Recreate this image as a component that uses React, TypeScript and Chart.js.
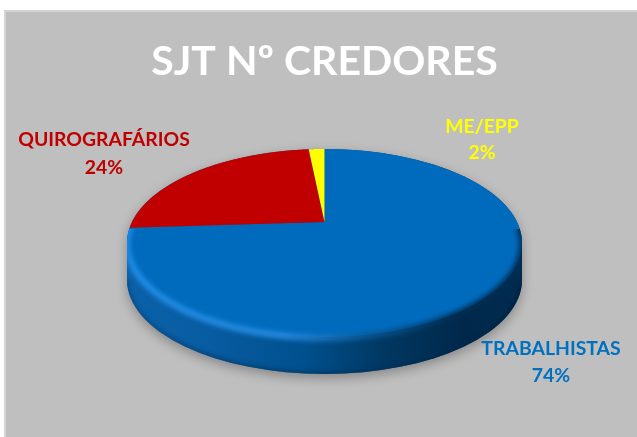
import React, { useEffect, useRef } from "react";
import { Chart, registerables } from "chart.js";

Chart.register(...registerables);

const categories = ["TRABALHISTAS", "QUIROGRAFÁRIOS", "ME/EPP"];
const values = [74, 24.4, 1.6];
const percentLabels = ["74%", "24%", "2%"];
const sliceColors = ["#006bbd", "#c00000", "#ffff00"];
const labelColors = ["#0070c0", "#c00000", "#ffff00"];
const labelCenters = [
  [551, 349, 376],
  [104, 140, 168],
  [482, 127, 153],
];

const CX = 324.5;
const CY = 243;
const RX = 197.5;
const RY = 94;
const TILT = -0.223;
const DEPTH = 37;

// maps a circle angle to the perspective rim ellipse
function rim(a: number): [number, number] {
  const u = Math.cos(a);
  const v = Math.sin(a);
  const d = 1 + TILT * v;
  return [CX + (RX * u * Math.sqrt(1 - TILT * TILT)) / d, CY + (RY * (v + TILT)) / d];
}

const apex = (): [number, number] => [CX, CY + RY * TILT];

function bodyPath(ctx: CanvasRenderingContext2D) {
  ctx.beginPath();
  ctx.ellipse(CX, CY, RX, RY, 0, Math.PI, 0, false);
  ctx.lineTo(CX + RX, CY + DEPTH);
  ctx.ellipse(CX, CY + DEPTH, RX, RY, 0, 0, Math.PI, false);
  ctx.closePath();
}

const panelPlugin = {
  id: "panel",
  beforeDraw(chart: any) {
    const { ctx, width, height } = chart;
    ctx.save();
    ctx.fillStyle = "#ffffff";
    ctx.fillRect(0, 0, width, height);
    ctx.fillStyle = "#d4d4d4";
    ctx.fillRect(4, 10, width - 4, height - 10);
    ctx.fillStyle = "#bfbfbf";
    ctx.fillRect(6, 12, width - 6, height - 12);
    ctx.restore();
  },
};

const tiltedPiePlugin = {
  id: "tiltedPie",
  beforeDatasetDraw(chart: any) {
    const ctx: CanvasRenderingContext2D = chart.ctx;
    const arcs = chart.getDatasetMeta(0).data;

    // ground shadow and side wall
    ctx.save();
    ctx.shadowColor = "rgba(0,0,0,0.30)";
    ctx.shadowBlur = 12;
    ctx.shadowOffsetY = 4;
    const wall = ctx.createLinearGradient(CX - RX, 0, CX + RX, 0);
    wall.addColorStop(0, "#0b62aa");
    wall.addColorStop(0.2, "#085ca2");
    wall.addColorStop(0.45, "#00508e");
    wall.addColorStop(0.65, "#003862");
    wall.addColorStop(0.85, "#00284a");
    wall.addColorStop(1, "#002c50");
    ctx.fillStyle = wall;
    bodyPath(ctx);
    ctx.fill();
    ctx.restore();

    // top face, from the angles Chart.js computed
    const [ax, ay] = apex();
    arcs.forEach((arc: any, i: number) => {
      const { startAngle, endAngle } = arc.getProps(["startAngle", "endAngle"], true);
      ctx.beginPath();
      ctx.moveTo(ax, ay);
      const steps = Math.max(4, Math.ceil((endAngle - startAngle) / 0.01));
      for (let s = 0; s <= steps; s++) {
        const [x, y] = rim(startAngle + ((endAngle - startAngle) * s) / steps);
        ctx.lineTo(x, y);
      }
      ctx.closePath();
      ctx.fillStyle = sliceColors[i];
      ctx.fill();
    });

    // soft edges of the wall and the rim
    ctx.save();
    bodyPath(ctx);
    ctx.clip();
    ctx.beginPath();
    ctx.rect(CX - RX - 5, CY - 14, RX * 2 + 10, RY + DEPTH + 30);
    ctx.clip();
    const bottomEdge = ctx.createLinearGradient(CX - RX, 0, CX + RX, 0);
    bottomEdge.addColorStop(0, "#084f8c");
    bottomEdge.addColorStop(0.5, "#003a66");
    bottomEdge.addColorStop(1, "#002040");
    ctx.strokeStyle = bottomEdge;
    ctx.lineWidth = 5;
    (ctx as any).filter = "blur(2px)";
    ctx.beginPath();
    ctx.ellipse(CX, CY + DEPTH, RX, RY, 0, 0, Math.PI);
    ctx.stroke();
    const bevel = ctx.createLinearGradient(CX - RX, 0, CX + RX, 0);
    bevel.addColorStop(0, "#2090ea");
    bevel.addColorStop(0.4, "#2a8ee4");
    bevel.addColorStop(0.6, "#0a5c9c");
    bevel.addColorStop(0.82, "#003056");
    bevel.addColorStop(1, "#002e54");
    ctx.strokeStyle = bevel;
    ctx.lineWidth = 6;
    (ctx as any).filter = "blur(2.5px)";
    ctx.beginPath();
    ctx.ellipse(CX, CY + 1, RX, RY, 0, -0.3, Math.PI + 0.3);
    ctx.stroke();
    ctx.restore();
    return false;
  },
};

const outerLabelPlugin = {
  id: "outerLabels",
  afterDraw(chart: any) {
    const ctx: CanvasRenderingContext2D = chart.ctx;
    ctx.save();
    ctx.font = "bold 19.4px Lato";
    ctx.textAlign = "center";
    ctx.textBaseline = "middle";
    categories.forEach((name, i) => {
      const [x, y1, y2] = labelCenters[i];
      ctx.fillStyle = labelColors[i];
      ctx.fillText(name, x, y1);
      ctx.fillText(percentLabels[i], x, y2);
    });
    ctx.restore();
  },
};

export default function App() {
  const ref = useRef<HTMLCanvasElement>(null);
  useEffect(() => {
    document.body.style.margin = "0";
    const chart = new Chart(ref.current!, {
      type: "pie",
      data: {
        labels: categories,
        datasets: [{ data: values, backgroundColor: sliceColors, borderWidth: 0 }],
      },
      options: {
        responsive: false,
        animation: false,
        layout: { padding: { left: 12 } },
        plugins: {
          legend: { display: false },
          tooltip: { enabled: false },
          title: {
            display: true,
            text: "SJT Nº CREDORES",
            color: "#ffffff",
            font: { family: "Lato", size: 41, weight: "bold" },
            padding: { top: 37, bottom: 10 },
          },
        },
      },
      plugins: [panelPlugin, tiltedPiePlugin, outerLabelPlugin],
    } as any);
    return () => chart.destroy();
  }, []);
  return <canvas ref={ref} width={637} height={437} style={{ display: "block" }} />;
}
